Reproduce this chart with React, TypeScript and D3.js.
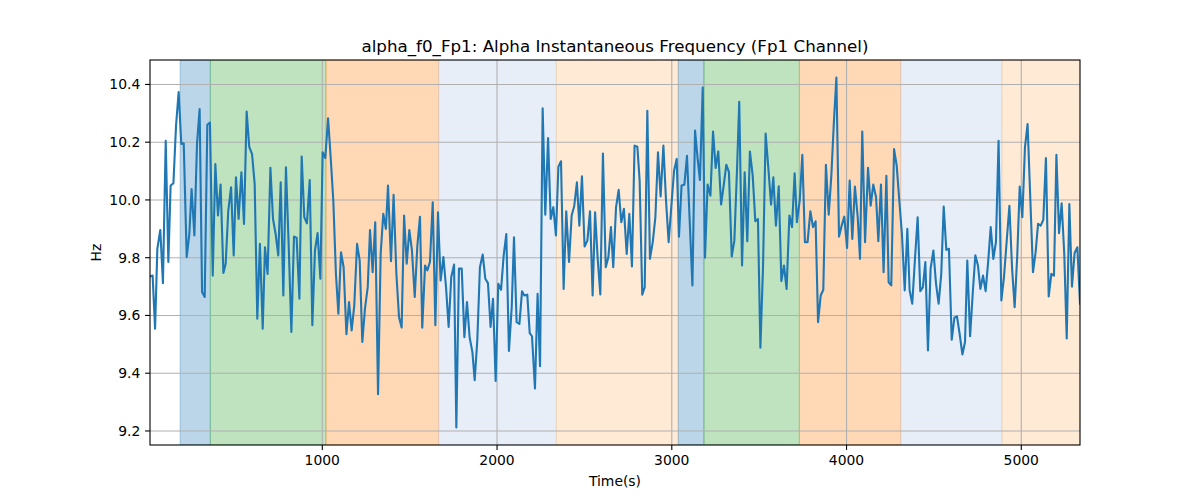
import React from "react";
import * as d3 from "d3";

const times: number[] = [
  14,29,43,56,73,88,104,119,132,148,
  163,178,193,207,224,239,252,268,283,298,
  312,327,342,357,373,388,403,418,434,447,
  462,478,493,506,521,537,552,567,582,598,
  613,628,643,659,672,687,703,718,733,748,
  762,777,792,808,823,838,853,869,882,897,
  912,928,943,958,973,989,1002,1017,1033,1048,
  1063,1078,1092,1107,1122,1138,1153,1168,1183,1199,
  1214,1229,1244,1260,1273,1288,1303,1319,1334,1349,
  1364,1376,1393,1408,1424,1439,1454,1468,1483,1498,
  1513,1529,1544,1559,1572,1588,1601,1616,1632,1647,
  1662,1677,1693,1708,1723,1738,1754,1767,1782,1798,
  1813,1828,1843,1859,1872,1887,1902,1918,1933,1948,
  1963,1977,1992,2007,2023,2038,2053,2068,2084,2097,
  2112,2128,2143,2156,2173,2187,2200,2217,2232,2246,
  2261,2276,2292,2307,2322,2337,2351,2366,2381,2396,
  2412,2427,2442,2457,2471,2486,2501,2517,2532,2547,
  2561,2576,2591,2606,2622,2637,2652,2665,2681,2696,
  2711,2726,2742,2757,2772,2787,2803,2816,2831,2845,
  2860,2875,2891,2906,2921,2936,2952,2967,2982,2997,
  3013,3028,3041,3056,3072,3087,3102,3118,3133,3148,
  3161,3177,3190,3205,3221,3236,3251,3266,3282,3297,
  3312,3327,3343,3358,3373,3386,3402,3417,3432,3447,
  3463,3478,3493,3507,3522,3537,3552,3568,3581,3596,
  3612,3627,3642,3657,3673,3688,3703,3716,3732,3747,
  3762,3777,3793,3808,3823,3837,3852,3867,3882,3898,
  3913,3928,3942,3957,3972,3987,4003,4018,4033,4048,
  4064,4077,4090,4106,4123,4138,4153,4169,4182,4197,
  4212,4228,4241,4256,4272,4287,4302,4317,4333,4348,
  4361,4376,4392,4407,4422,4437,4451,4466,4481,4497,
  4512,4527,4542,4556,4571,4586,4602,4617,4632,4647,
  4663,4678,4691,4707,4722,4737,4752,4766,4781,4796,
  4811,4825,4840,4855,4870,4886,4901,4916,4932,4947,
  4962,4977,4991,5006,5021,5036,5052,5067,5082,5096,
  5111,5126,5141,5157,5172,5187,5201,5216,5231,5246,
  5260,5275,5290,5305,5321,5336,
];

const hz: number[] = [
  9.735,9.738,9.554,9.831,9.896,9.712,10.205,9.785,10.050,10.058,
  10.257,10.374,10.194,10.196,9.802,9.882,10.038,9.877,10.194,10.315,
  9.681,9.664,10.260,10.268,9.738,10.124,9.946,10.053,9.747,9.779,
  9.963,10.044,9.808,10.078,9.934,10.096,9.917,10.306,10.184,10.159,
  10.055,9.589,9.848,9.554,9.836,9.744,10.111,9.934,9.882,9.808,
  10.061,9.669,10.113,9.836,9.543,9.873,9.869,9.658,10.150,9.940,
  9.919,10.069,9.566,9.825,9.885,9.727,10.165,10.145,10.283,10.147,
  9.998,9.744,9.606,9.819,9.767,9.535,9.646,9.548,9.635,9.848,
  9.790,9.508,9.623,9.698,9.896,9.750,9.923,9.327,9.813,9.952,
  9.900,10.050,9.788,10.018,9.744,9.594,9.558,9.946,9.779,9.896,
  9.825,9.664,9.842,9.942,9.558,9.773,9.756,9.785,9.992,9.566,
  9.957,9.721,9.802,9.698,9.560,9.733,9.776,9.212,9.762,9.762,
  9.525,9.646,9.525,9.473,9.376,9.514,9.767,9.811,9.727,9.712,
  9.560,9.658,9.373,9.710,9.689,9.808,9.882,9.477,9.629,9.871,
  9.577,9.571,9.684,9.669,9.672,9.539,9.528,9.347,9.675,9.424,
  10.317,9.949,10.214,9.934,9.975,9.877,10.115,10.134,9.692,9.961,
  9.785,9.946,9.980,10.061,9.911,10.082,9.839,9.859,9.961,9.669,
  9.957,9.796,9.673,10.161,9.767,9.802,9.906,9.767,9.975,10.035,
  9.923,9.969,9.813,9.952,9.770,10.188,10.184,10.067,9.672,9.698,
  10.309,9.796,9.854,9.940,10.165,10.012,10.188,9.998,9.854,9.975,
  10.101,10.142,9.873,10.050,10.053,10.153,9.934,9.704,10.240,10.142,
  10.069,10.389,9.800,10.053,10.015,10.237,10.111,10.168,9.984,10.050,
  10.122,10.096,9.804,9.859,10.101,10.340,9.773,10.096,9.857,10.168,
  10.084,9.926,9.934,9.488,9.767,10.230,10.115,9.984,10.078,9.911,
  10.047,9.719,9.773,9.692,9.946,9.906,10.092,9.923,9.998,10.156,
  9.854,9.854,9.961,9.906,9.926,9.577,9.669,9.689,10.122,9.949,
  10.084,10.274,10.424,9.873,9.911,9.942,9.834,10.067,9.865,10.046,
  9.940,9.796,10.237,9.854,10.111,9.980,10.053,10.009,9.857,10.053,
  9.750,10.084,9.715,9.704,10.176,10.119,9.998,9.882,9.687,9.900,
  9.687,9.641,9.800,9.940,9.684,9.698,9.785,9.479,9.762,9.825,
  9.710,9.641,9.744,9.977,9.827,9.831,9.516,9.592,9.597,9.537,
  9.465,9.508,9.790,9.528,9.675,9.808,9.773,9.692,9.738,9.684,
  9.790,9.906,9.796,9.854,10.205,9.652,9.733,9.854,9.980,9.767,
  9.629,9.808,10.046,9.940,10.182,10.263,9.998,9.750,9.819,9.917,
  9.911,9.931,10.145,9.666,9.744,9.738,10.156,9.885,9.988,9.813,
  9.520,9.986,9.700,9.816,9.836,9.641,
];

const bandStarts: number[] = [186, 359, 1021, 1666, 2339, 3037, 3184, 3730, 4310, 4889];
const bandEnds: number[] = [359, 1021, 1666, 2339, 3037, 3184, 3730, 4310, 4889, 5336];
const bandColors: string[] = [
  "#1f77b4", "#2ca02c", "#ff7f0e", "#aec7e8", "#ffbb78",
  "#1f77b4", "#2ca02c", "#ff7f0e", "#aec7e8", "#ffbb78",
];

const xTicks: number[] = [1000, 2000, 3000, 4000, 5000];
const yTicks: number[] = [9.2, 9.4, 9.6, 9.8, 10.0, 10.2, 10.4];

const title = "alpha_f0_Fp1: Alpha Instantaneous Frequency (Fp1 Channel)";
const xLabel = "Time(s)";
const yLabel = "Hz";

export default function App() {
  const W = 1200, H = 500;
  const L = 150, R = 1080, T = 60, B = 445;
  const n = Math.min(times.length, hz.length);
  const pts = d3.range(n).map((i) => [times[i], hz[i]] as [number, number]);

  const xExt = d3.extent(times) as [number, number];
  const x = d3.scaleLinear().domain(xExt).range([L, R]);
  const [ymin, ymax] = d3.extent(hz) as [number, number];
  const pad = (ymax - ymin) * 0.05;
  const y = d3.scaleLinear().domain([ymin - pad, ymax + pad]).range([B, T]);

  const line = d3.line<[number, number]>().x((d) => x(d[0])).y((d) => y(d[1]));
  const font = "DejaVu Sans, sans-serif";

  return (
    <svg width={W} height={H} style={{ position: "absolute", left: 0, top: 0, background: "#fff" }}
      fontFamily={font}>
      <defs>
        <clipPath id="plotclip">
          <rect x={L} y={T} width={R - L} height={B - T} />
        </clipPath>
      </defs>
      <g clipPath="url(#plotclip)">
        {bandStarts.map((s, i) => (
          <rect key={i} x={x(s)} y={T} width={x(bandEnds[i]) - x(s)} height={B - T}
            fill={bandColors[i]} fillOpacity={0.3} stroke={bandColors[i]} strokeOpacity={0.3} strokeWidth={1} />
        ))}
        {xTicks.map((t) => (
          <line key={"gx" + t} x1={x(t)} x2={x(t)} y1={T} y2={B} stroke="#b0b0b0" strokeWidth={1.1} />
        ))}
        {yTicks.map((t) => (
          <line key={"gy" + t} x1={L} x2={R} y1={y(t)} y2={y(t)} stroke="#b0b0b0" strokeWidth={1.1} />
        ))}
        <path d={line(pts) || ""} fill="none" stroke="#1f77b4" strokeWidth={2.1} strokeLinejoin="round" strokeLinecap="square" />
      </g>
      <rect x={L} y={T} width={R - L} height={B - T} fill="none" stroke="#000" strokeWidth={1.1} />
      {xTicks.map((t) => (
        <g key={"tx" + t}>
          <line x1={x(t)} x2={x(t)} y1={B} y2={B + 4.9} stroke="#000" strokeWidth={1.1} />
          <text x={x(t)} y={B + 9.7} dy="0.76em" textAnchor="middle" fontSize={13.9} fill="#000">{t}</text>
        </g>
      ))}
      {yTicks.map((t) => (
        <g key={"ty" + t}>
          <line x1={L - 4.9} x2={L} y1={y(t)} y2={y(t)} stroke="#000" strokeWidth={1.1} />
          <text x={L - 9.7} y={y(t)} dy="0.35em" textAnchor="end" fontSize={13.9} fill="#000">{t.toFixed(1)}</text>
        </g>
      ))}
      <text x={(L + R) / 2} y={T - 8.3} textAnchor="middle" fontSize={16.7} fill="#000">{title}</text>
      <text x={(L + R) / 2} y={486} textAnchor="middle" fontSize={13.9} fill="#000">{xLabel}</text>
      <text transform={`translate(101, ${(T + B) / 2}) rotate(-90)`} textAnchor="middle" fontSize={13.9} fill="#000">{yLabel}</text>
    </svg>
  );
}
